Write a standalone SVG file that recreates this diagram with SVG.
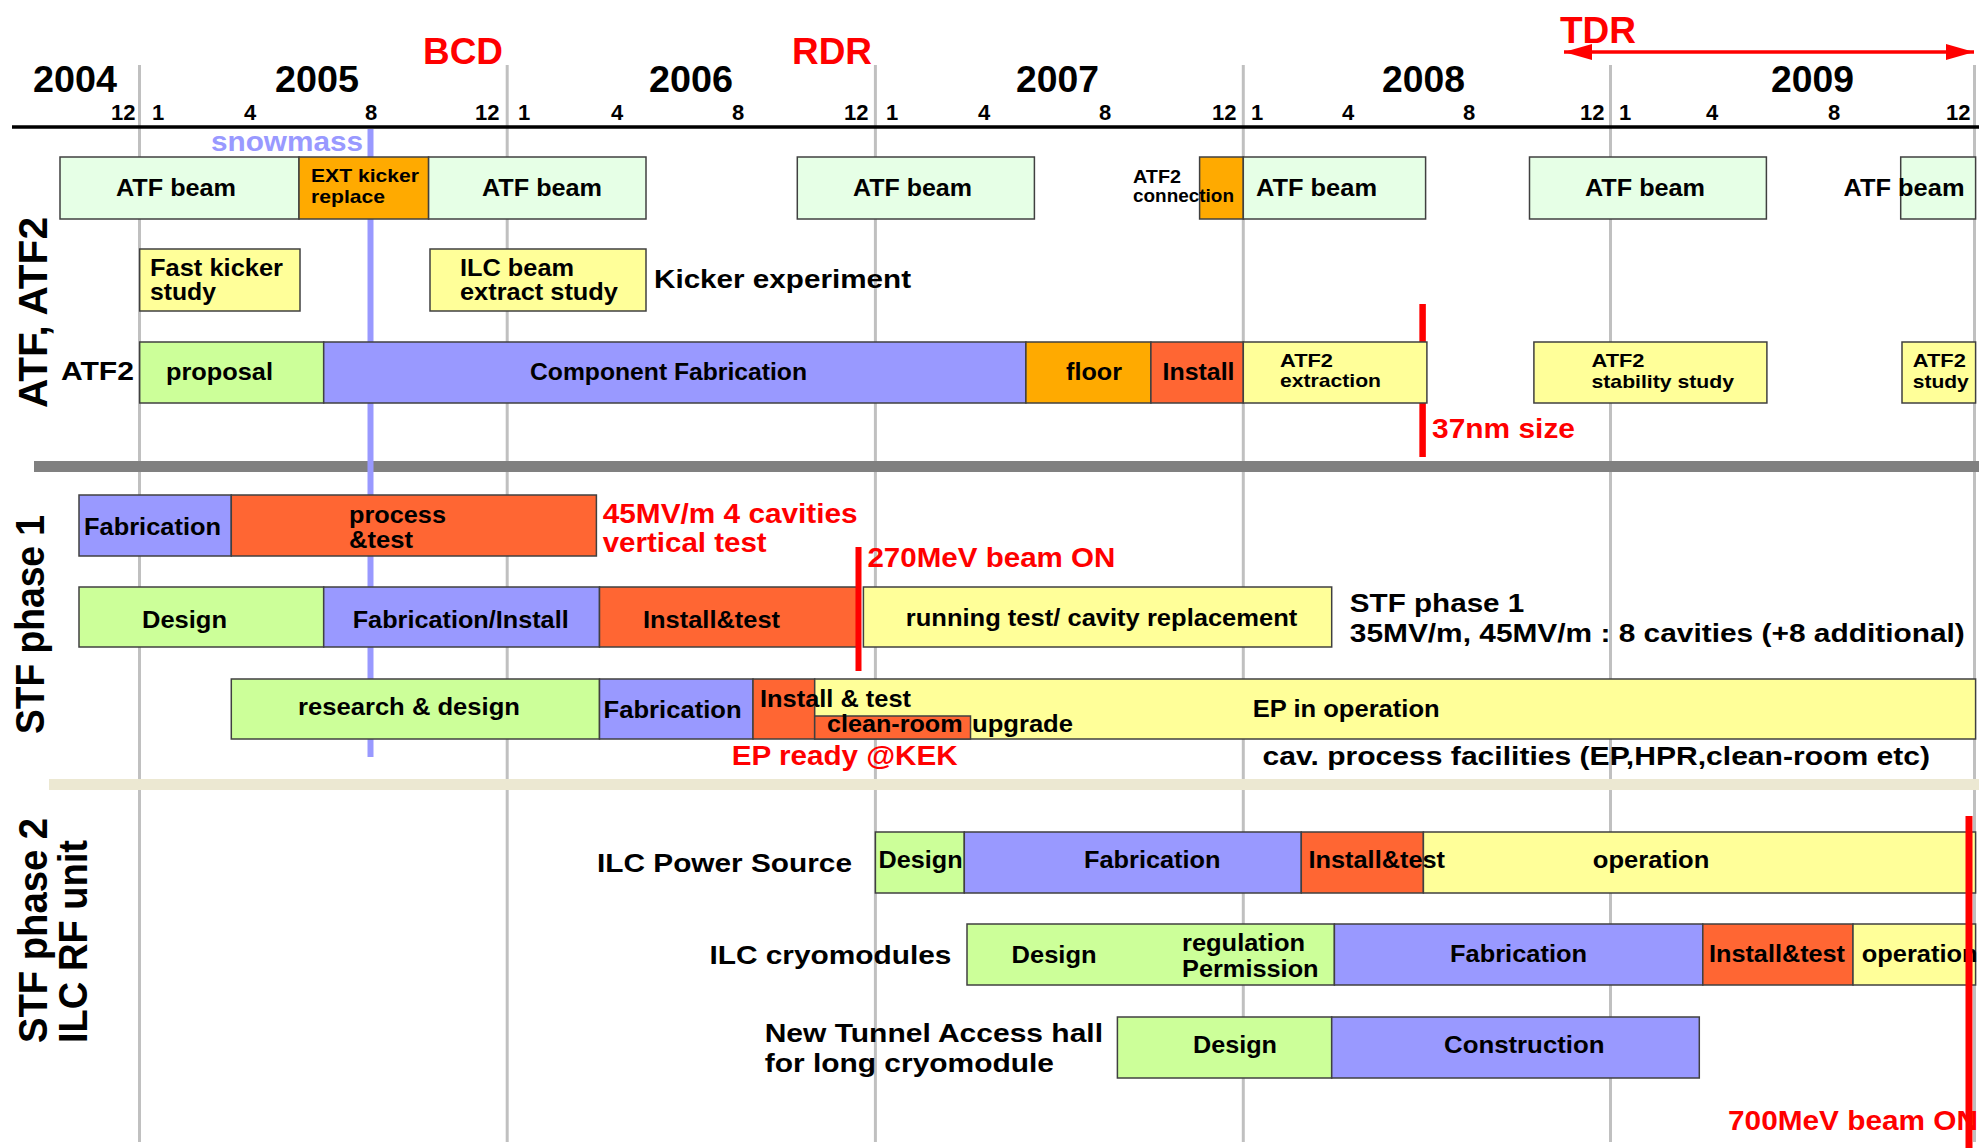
<svg xmlns="http://www.w3.org/2000/svg" width="1979" height="1148" viewBox="0 0 1979 1148">
  <style>
    text { font-family: "Liberation Sans", Arial, Helvetica, sans-serif; font-weight: bold; fill: #000; }
    .yr { font-size: 36px; }
    .ms { font-size: 36px; fill: #ff0000; }
    .mo { font-size: 22px; }
    .lb { font-size: 24.5px; }
    .sm { font-size: 19px; }
    .fr { font-size: 26.5px; }
    .red { font-size: 27.5px; fill: #ff0000; }
    .sec { font-size: 40px; }
    .bx { stroke: #404040; stroke-width: 1.5; }
    .lg { fill: #e6ffe6; }
    .gr { fill: #ccff99; }
    .bl { fill: #9999ff; }
    .or { fill: #ffaa00; }
    .rd { fill: #ff6633; }
    .ye { fill: #ffff99; }
    .grid { stroke: #c0c0c0; stroke-width: 3; }
    .mark { stroke: #ff0000; }
  </style>
  <defs>
    <marker id="arrowRed" markerUnits="userSpaceOnUse" markerWidth="28" markerHeight="16" refX="28" refY="8" orient="auto-start-reverse">
      <path d="M0,0 L28,8 L0,16 z" fill="#ff0000"/>
    </marker>
  </defs>

  <rect width="1979" height="1148" fill="#ffffff"/>

  <!-- year grid -->
  <g id="grid">
    <line class="grid" x1="139.5" y1="65" x2="139.5" y2="1142"/>
    <line class="grid" x1="507.2" y1="65" x2="507.2" y2="1142"/>
    <line class="grid" x1="875.4" y1="65" x2="875.4" y2="1142"/>
    <line class="grid" x1="1243.3" y1="65" x2="1243.3" y2="1142"/>
    <line class="grid" x1="1610.5" y1="65" x2="1610.5" y2="1142"/>
    <line class="grid" x1="1974.5" y1="65" x2="1974.5" y2="1142"/>
  </g>

  <!-- time axis -->
  <g id="axis">
    <line x1="12" y1="127" x2="1979" y2="127" stroke="#000" stroke-width="3.5"/>
    <text class="yr" x="33" y="92" textLength="84" lengthAdjust="spacingAndGlyphs">2004</text>
    <text class="yr" x="275" y="92" textLength="84" lengthAdjust="spacingAndGlyphs">2005</text>
    <text class="yr" x="649" y="92" textLength="84" lengthAdjust="spacingAndGlyphs">2006</text>
    <text class="yr" x="1016" y="92" textLength="83" lengthAdjust="spacingAndGlyphs">2007</text>
    <text class="yr" x="1382" y="92" textLength="83" lengthAdjust="spacingAndGlyphs">2008</text>
    <text class="yr" x="1771" y="92" textLength="83" lengthAdjust="spacingAndGlyphs">2009</text>

    <text class="mo" x="111" y="120">12</text>
    <text class="mo" x="152" y="120">1</text>
    <text class="mo" x="244" y="120">4</text>
    <text class="mo" x="365" y="120">8</text>
    <text class="mo" x="475" y="120">12</text>
    <text class="mo" x="518" y="120">1</text>
    <text class="mo" x="611" y="120">4</text>
    <text class="mo" x="732" y="120">8</text>
    <text class="mo" x="844" y="120">12</text>
    <text class="mo" x="886" y="120">1</text>
    <text class="mo" x="978" y="120">4</text>
    <text class="mo" x="1099" y="120">8</text>
    <text class="mo" x="1212" y="120">12</text>
    <text class="mo" x="1251" y="120">1</text>
    <text class="mo" x="1342" y="120">4</text>
    <text class="mo" x="1463" y="120">8</text>
    <text class="mo" x="1580" y="120">12</text>
    <text class="mo" x="1619" y="120">1</text>
    <text class="mo" x="1706" y="120">4</text>
    <text class="mo" x="1828" y="120">8</text>
    <text class="mo" x="1946" y="120">12</text>
  </g>

  <!-- milestones -->
  <g id="milestones">
    <text class="ms" x="423" y="64" textLength="80" lengthAdjust="spacingAndGlyphs">BCD</text>
    <text class="ms" x="792" y="64" textLength="80" lengthAdjust="spacingAndGlyphs">RDR</text>
    <text class="ms" x="1560" y="43" textLength="76" lengthAdjust="spacingAndGlyphs">TDR</text>
    <text x="211" y="151" font-size="28" style="fill:#9999ff" textLength="152" lengthAdjust="spacingAndGlyphs">snowmass</text>
  </g>

  <!-- section dividers -->
  <rect id="divider-atf-stf" x="34" y="461" width="1945" height="11" fill="#808080"/>
  <rect id="divider-stf1-stf2" x="49" y="779" width="1930" height="11" fill="#ece8d2"/>

  <!-- snowmass marker (behind bars) -->
  <line id="snowmass-line" x1="370.5" y1="129" x2="370.5" y2="757" stroke="#9999ff" stroke-width="6"/>

  <!-- section titles -->
  <g id="sections">
    <text class="sec" transform="translate(47,408) rotate(-90)" textLength="191" lengthAdjust="spacingAndGlyphs">ATF, ATF2</text>
    <text class="sec" transform="translate(44,734) rotate(-90)" textLength="219" lengthAdjust="spacingAndGlyphs">STF phase 1</text>
    <text class="sec" transform="translate(47,1043) rotate(-90)" textLength="225" lengthAdjust="spacingAndGlyphs">STF phase 2</text>
    <text class="sec" transform="translate(87,1043) rotate(-90)" textLength="203" lengthAdjust="spacingAndGlyphs">ILC RF unit</text>
  </g>

  <!-- ATF beam operation row -->
  <g id="atf-beam-1"><rect class="bx lg" x="60" y="157" width="239" height="62"/>
    <text class="lb" x="116" y="196" textLength="120" lengthAdjust="spacingAndGlyphs">ATF beam</text></g>
  <g id="ext-kicker"><rect class="bx or" x="299" y="157" width="129.6" height="62"/>
    <text class="sm" x="311" y="182" textLength="108" lengthAdjust="spacingAndGlyphs">EXT kicker</text>
    <text class="sm" x="311" y="203" textLength="74" lengthAdjust="spacingAndGlyphs">replace</text></g>
  <g id="atf-beam-2"><rect class="bx lg" x="428.6" y="157" width="217.4" height="62"/>
    <text class="lb" x="482" y="196" textLength="120" lengthAdjust="spacingAndGlyphs">ATF beam</text></g>
  <g id="atf-beam-3"><rect class="bx lg" x="797.3" y="157" width="237.1" height="62"/>
    <text class="lb" x="853" y="196" textLength="119" lengthAdjust="spacingAndGlyphs">ATF beam</text></g>
  <g id="atf2-connection"><rect class="bx or" x="1199.6" y="157" width="43.7" height="62"/>
    <text class="sm" x="1133" y="182.7" textLength="48" lengthAdjust="spacingAndGlyphs">ATF2</text>
    <text class="sm" x="1133" y="202" textLength="101" lengthAdjust="spacingAndGlyphs">connection</text></g>
  <g id="atf-beam-4"><rect class="bx lg" x="1243.3" y="157" width="182.3" height="62"/>
    <text class="lb" x="1256" y="196" textLength="121" lengthAdjust="spacingAndGlyphs">ATF beam</text></g>
  <g id="atf-beam-5"><rect class="bx lg" x="1529.5" y="157" width="236.9" height="62"/>
    <text class="lb" x="1585" y="196" textLength="120" lengthAdjust="spacingAndGlyphs">ATF beam</text></g>
  <g id="atf-beam-6"><rect class="bx lg" x="1900.7" y="157" width="74.9" height="62"/>
    <text class="lb" x="1843.5" y="196" textLength="121" lengthAdjust="spacingAndGlyphs">ATF beam</text></g>

  <!-- kicker studies row -->
  <g id="fast-kicker-study"><rect class="bx ye" x="139.7" y="249" width="160.3" height="62"/>
    <text class="lb" x="150" y="276" textLength="133" lengthAdjust="spacingAndGlyphs">Fast kicker</text>
    <text class="lb" x="150" y="300" textLength="66" lengthAdjust="spacingAndGlyphs">study</text></g>
  <g id="ilc-beam-extract-study"><rect class="bx ye" x="430" y="249" width="216" height="62"/>
    <text class="lb" x="460" y="276" textLength="114" lengthAdjust="spacingAndGlyphs">ILC beam</text>
    <text class="lb" x="460" y="300" textLength="158" lengthAdjust="spacingAndGlyphs">extract study</text></g>
  <text id="kicker-experiment" class="fr" x="654" y="288" textLength="257" lengthAdjust="spacingAndGlyphs">Kicker experiment</text>

  <!-- ATF2 row -->
  <text id="atf2-label" class="fr" x="61" y="380" textLength="73" lengthAdjust="spacingAndGlyphs">ATF2</text>
  <line id="nm37-line" x1="1422.6" y1="304" x2="1422.6" y2="457" stroke="#ff0000" stroke-width="6.5"/>
  <g id="atf2-proposal"><rect class="bx gr" x="139.7" y="342" width="184" height="61"/>
    <text class="lb" x="166" y="380" textLength="107" lengthAdjust="spacingAndGlyphs">proposal</text></g>
  <g id="component-fabrication"><rect class="bx bl" x="323.7" y="342" width="702.2" height="61"/>
    <text class="lb" x="530" y="380" textLength="277" lengthAdjust="spacingAndGlyphs">Component Fabrication</text></g>
  <g id="atf2-floor"><rect class="bx or" x="1025.9" y="342" width="125" height="61"/>
    <text class="lb" x="1066" y="380" textLength="56" lengthAdjust="spacingAndGlyphs">floor</text></g>
  <g id="atf2-install"><rect class="bx rd" x="1150.9" y="342" width="92.4" height="61"/>
    <text class="lb" x="1162.5" y="380" textLength="72" lengthAdjust="spacingAndGlyphs">Install</text></g>
  <g id="atf2-extraction"><rect class="bx ye" x="1243.3" y="342" width="183.6" height="61"/>
    <text class="sm" x="1280" y="366.7" textLength="53" lengthAdjust="spacingAndGlyphs">ATF2</text>
    <text class="sm" x="1280" y="387" textLength="101" lengthAdjust="spacingAndGlyphs">extraction</text></g>
  <g id="atf2-stability-study"><rect class="bx ye" x="1533.9" y="342" width="233" height="61"/>
    <text class="sm" x="1591.5" y="366.7" textLength="53" lengthAdjust="spacingAndGlyphs">ATF2</text>
    <text class="sm" x="1591.5" y="388" textLength="142.5" lengthAdjust="spacingAndGlyphs">stability study</text></g>
  <g id="atf2-study"><rect class="bx ye" x="1902" y="342" width="73.6" height="61"/>
    <text class="sm" x="1912.8" y="366.7" textLength="53" lengthAdjust="spacingAndGlyphs">ATF2</text>
    <text class="sm" x="1912.8" y="388" textLength="56" lengthAdjust="spacingAndGlyphs">study</text></g>
  <text id="nm37-label" class="red" x="1432" y="438" textLength="143" lengthAdjust="spacingAndGlyphs">37nm size</text>

  <!-- STF phase 1: cavity tests -->
  <g id="cavity-fabrication"><rect class="bx bl" x="79" y="495" width="152.3" height="61"/>
    <text class="lb" x="84" y="535" textLength="137" lengthAdjust="spacingAndGlyphs">Fabrication</text></g>
  <g id="cavity-process-test"><rect class="bx rd" x="231.3" y="495" width="365.1" height="61"/>
    <text class="lb" x="349" y="522.7" textLength="97" lengthAdjust="spacingAndGlyphs">process</text>
    <text class="lb" x="349" y="548.3" textLength="64" lengthAdjust="spacingAndGlyphs">&amp;test</text></g>
  <text id="vertical-test-note" class="red"><tspan x="602.7" y="523" textLength="255" lengthAdjust="spacingAndGlyphs">45MV/m 4 cavities</tspan><tspan x="602.7" y="552" textLength="164" lengthAdjust="spacingAndGlyphs">vertical test</tspan></text>

  <!-- STF phase 1: cryomodule line -->
  <g id="stf-design"><rect class="bx gr" x="79" y="587" width="244.7" height="60"/>
    <text class="lb" x="142" y="628" textLength="85" lengthAdjust="spacingAndGlyphs">Design</text></g>
  <g id="stf-fabrication-install"><rect class="bx bl" x="323.7" y="587" width="275.8" height="60"/>
    <text class="lb" x="352.7" y="628" textLength="216" lengthAdjust="spacingAndGlyphs">Fabrication/Install</text></g>
  <g id="stf-install-test"><rect class="bx rd" x="599.5" y="587" width="257.2" height="60"/>
    <text class="lb" x="643" y="628" textLength="137" lengthAdjust="spacingAndGlyphs">Install&amp;test</text></g>
  <g id="stf-running-test"><rect class="bx ye" x="863.4" y="587" width="468.3" height="60"/>
    <text class="lb" x="905.8" y="626" textLength="391.5" lengthAdjust="spacingAndGlyphs">running test/ cavity replacement</text></g>
  <text id="stf-phase1-note" class="fr"><tspan x="1349.8" y="611.7" textLength="174.5" lengthAdjust="spacingAndGlyphs">STF phase 1</tspan><tspan x="1349.8" y="641.7" textLength="615" lengthAdjust="spacingAndGlyphs">35MV/m, 45MV/m : 8 cavities (+8 additional)</tspan></text>

  <!-- STF phase 1: EP facility line -->
  <g id="ep-research-design"><rect class="bx gr" x="231.3" y="679" width="368.2" height="60"/>
    <text class="lb" x="298" y="715" textLength="222" lengthAdjust="spacingAndGlyphs">research &amp; design</text></g>
  <g id="ep-fabrication"><rect class="bx bl" x="599.5" y="679" width="153.5" height="60"/>
    <text class="lb" x="603.6" y="718" textLength="138" lengthAdjust="spacingAndGlyphs">Fabrication</text></g>
  <g id="ep-install-test"><rect class="bx rd" x="753" y="679" width="61.7" height="60"/></g>
  <g id="ep-operation"><rect class="bx ye" x="814.7" y="679" width="1160.9" height="60"/>
    <text class="lb" x="1252.7" y="716.7" textLength="187" lengthAdjust="spacingAndGlyphs">EP in operation</text></g>
  <g id="clean-room"><rect class="bx rd" x="814.7" y="716" width="155.8" height="23"/>
    <text class="lb" x="827" y="731.7" textLength="135.5" lengthAdjust="spacingAndGlyphs">clean-room</text></g>
  <text class="lb" x="760" y="706.7" textLength="151" lengthAdjust="spacingAndGlyphs">Install &amp; test</text>
  <text class="lb" x="972" y="731.7" textLength="101" lengthAdjust="spacingAndGlyphs">upgrade</text>
  <text id="ep-ready-note" class="red" x="731.7" y="765" textLength="226" lengthAdjust="spacingAndGlyphs">EP ready @KEK</text>
  <text id="cav-process-note" class="fr" x="1262.5" y="765" textLength="667.5" lengthAdjust="spacingAndGlyphs">cav. process facilities (EP,HPR,clean-room etc)</text>

  <!-- STF phase 2: ILC power source -->
  <text class="fr" x="597" y="871.7" textLength="255" lengthAdjust="spacingAndGlyphs">ILC Power Source</text>
  <g id="ps-design"><rect class="bx gr" x="875.4" y="832" width="88.9" height="61"/>
    <text class="lb" x="878.6" y="868" textLength="84" lengthAdjust="spacingAndGlyphs">Design</text></g>
  <g id="ps-fabrication"><rect class="bx bl" x="964.3" y="832" width="337" height="61"/>
    <text class="lb" x="1084" y="868" textLength="136.5" lengthAdjust="spacingAndGlyphs">Fabrication</text></g>
  <g id="ps-install-test"><rect class="bx rd" x="1301.3" y="832" width="122.1" height="61"/></g>
  <g id="ps-operation"><rect class="bx ye" x="1423.4" y="832" width="552.2" height="61"/>
    <text class="lb" x="1592.8" y="868" textLength="116.5" lengthAdjust="spacingAndGlyphs">operation</text></g>
  <text class="lb" x="1308.5" y="868" textLength="136.5" lengthAdjust="spacingAndGlyphs">Install&amp;test</text>

  <!-- STF phase 2: ILC cryomodules -->
  <text class="fr" x="709.4" y="964" textLength="242" lengthAdjust="spacingAndGlyphs">ILC cryomodules</text>
  <g id="cm-design"><rect class="bx gr" x="967" y="924" width="367.4" height="61"/>
    <text class="lb" x="1011.6" y="962.7" textLength="85" lengthAdjust="spacingAndGlyphs">Design</text>
    <text class="lb" x="1182" y="950.7" textLength="123" lengthAdjust="spacingAndGlyphs">regulation</text>
    <text class="lb" x="1182" y="976.7" textLength="136.6" lengthAdjust="spacingAndGlyphs">Permission</text></g>
  <g id="cm-fabrication"><rect class="bx bl" x="1334.4" y="924" width="368.4" height="61"/>
    <text class="lb" x="1450" y="961.7" textLength="137" lengthAdjust="spacingAndGlyphs">Fabrication</text></g>
  <g id="cm-install-test"><rect class="bx rd" x="1702.8" y="924" width="150.2" height="61"/>
    <text class="lb" x="1709" y="961.7" textLength="136" lengthAdjust="spacingAndGlyphs">Install&amp;test</text></g>
  <g id="cm-operation"><rect class="bx ye" x="1853" y="924" width="122.6" height="61"/>
    <text class="lb" x="1861.7" y="961.7" textLength="116" lengthAdjust="spacingAndGlyphs">operation</text></g>

  <!-- STF phase 2: tunnel access hall -->
  <text class="fr"><tspan x="764.7" y="1041.7" textLength="338.3" lengthAdjust="spacingAndGlyphs">New Tunnel Access hall</tspan><tspan x="764.7" y="1071.7" textLength="289.3" lengthAdjust="spacingAndGlyphs">for long cryomodule</tspan></text>
  <g id="hall-design"><rect class="bx gr" x="1117.4" y="1017" width="214.3" height="61"/>
    <text class="lb" x="1193" y="1053" textLength="84" lengthAdjust="spacingAndGlyphs">Design</text></g>
  <g id="hall-construction"><rect class="bx bl" x="1331.7" y="1017" width="367.6" height="61"/>
    <text class="lb" x="1444" y="1053" textLength="160.5" lengthAdjust="spacingAndGlyphs">Construction</text></g>

  <!-- milestone markers -->
  <g id="connectors">
    <line x1="1564" y1="52" x2="1974" y2="52" stroke="#ff0000" stroke-width="3.5" marker-start="url(#arrowRed)" marker-end="url(#arrowRed)"/>
    <line class="mark" x1="858.5" y1="547" x2="858.5" y2="671" stroke-width="6"/>
    <line class="mark" x1="1969" y1="816" x2="1969" y2="1148" stroke-width="7"/>
  </g>
  <text id="beam270-note" class="red" font-size="29" x="867.4" y="567.3" textLength="248" lengthAdjust="spacingAndGlyphs">270MeV beam ON</text>
  <text id="beam700-note" class="red" x="1728" y="1130" textLength="250" lengthAdjust="spacingAndGlyphs">700MeV beam ON</text>
</svg>
